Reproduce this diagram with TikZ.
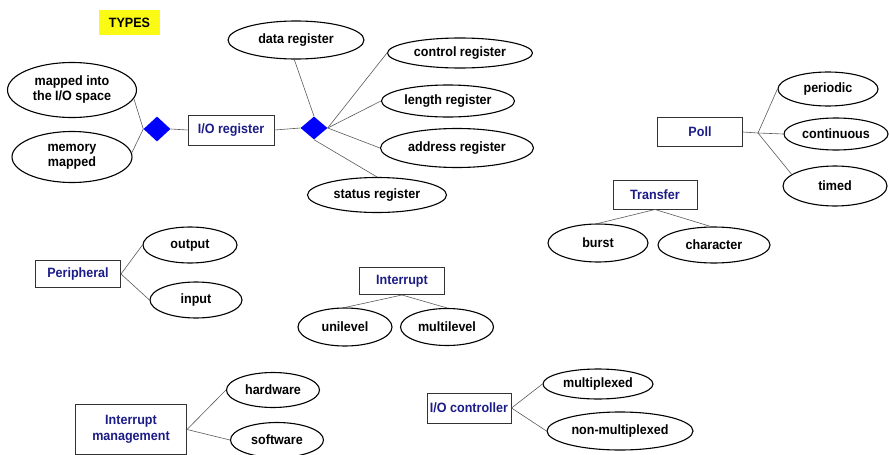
\documentclass[tikz,border=0pt]{standalone}
\usepackage{fontspec}
\setmainfont{Liberation Sans}[FakeStretch=0.93]
\usetikzlibrary{shapes.geometric}
\definecolor{navy}{RGB}{28,28,135}
\definecolor{linegray}{RGB}{90,90,90}
\definecolor{diablue}{RGB}{0,0,255}
\definecolor{typesyellow}{RGB}{250,250,20}
\tikzset{
  ell/.style={draw=black, line width=1.1pt, ellipse, inner sep=0pt},
  lbl/.style={font=\fontsize{13.5}{15}\selectfont\bfseries, text=black, align=center, inner sep=0pt},
  bx/.style={draw=black!80, line width=1pt, rectangle, inner sep=0pt, align=center,
             font=\fontsize{13.5}{16}\selectfont\bfseries, text=navy},
  dia/.style={diamond, fill=diablue, draw=none, inner sep=0pt},
  conn/.style={draw=linegray, line width=0.6pt}
}
\begin{document}
\begin{tikzpicture}[x=1pt,y=-1pt]
\useasboundingbox (0,0) rectangle (889,455);
% TYPES
\node[fill=typesyellow, minimum width=61, minimum height=25, inner sep=0pt,
      font=\fontsize{13.5}{15}\selectfont\bfseries] (types) at (129.5,22.5) {TYPES};
% I/O register cluster
\node[ell, minimum width=129, minimum height=55, label={[lbl]center:{mapped into\\the I/O space}}] (m1) at (72,90) {};
\node[ell, minimum width=120, minimum height=51, label={[lbl]center:{memory\\mapped}}] (m2) at (72,157) {};
\node[dia, minimum width=27, minimum height=25] (dL) at (157,129) {};
\node[bx, minimum width=86, minimum height=30] (ioreg) at (231,130) {I/O register};
\node[dia, minimum width=27, minimum height=23] (dR) at (314,128) {};
\node[ell, minimum width=136, minimum height=38, label={[lbl]center:{data register}}] (dreg) at (296,40) {};
\node[ell, minimum width=145, minimum height=30, label={[lbl]center:{control register}}] (creg) at (460,53) {};
\node[ell, minimum width=133, minimum height=32, label={[lbl]center:{length register}}] (lreg) at (448,101) {};
\node[ell, minimum width=153, minimum height=39, label={[lbl]center:{address register}}] (areg) at (457,148) {};
\node[ell, minimum width=139, minimum height=35, label={[lbl]center:{status register}}] (sreg) at (377,195) {};
\draw[conn] (m1.-8) -- (dL.west);
\draw[conn] (m2.4) -- (dL.west);
\draw[conn] (dL.east) -- (ioreg.west);
\draw[conn] (ioreg.east) -- (dR.west);
\draw[conn] (dreg.-95) -- (dR.north);
\draw[conn] (creg.west) -- (dR.east);
\draw[conn] (lreg.west) -- (dR.east);
\draw[conn] (areg.west) -- (dR.east);
\draw[conn] (sreg.north) -- (dR.south);
% Poll
\node[bx, minimum width=85, minimum height=29] (poll) at (700,132) {Poll};
\coordinate (pj) at (758,133);
\node[ell, minimum width=100, minimum height=34, label={[lbl]center:{periodic}}] (per) at (828,89) {};
\node[ell, minimum width=104, minimum height=32, label={[lbl]center:{continuous}}] (cont) at (836,134) {};
\node[ell, minimum width=104, minimum height=40, label={[lbl]center:{timed}}] (timed) at (835,186) {};
\draw[conn] (poll.east) -- (pj);
\draw[conn] (pj) -- (per.west);
\draw[conn] (pj) -- (cont.west);
\draw[conn] (pj) -- (timed.165);
% Transfer
\node[bx, minimum width=84, minimum height=29] (transfer) at (655,194.5) {Transfer};
\node[ell, minimum width=100, minimum height=38, label={[lbl]center:{burst}}] (burst) at (598,243) {};
\node[ell, minimum width=112, minimum height=36, label={[lbl]center:{character}}] (charc) at (714,245) {};
\draw[conn] (transfer.south) -- (burst.north);
\draw[conn] (transfer.south) -- (charc.100);
% Peripheral
\node[bx, minimum width=85, minimum height=27] (periph) at (78,274) {Peripheral};
\node[ell, minimum width=94, minimum height=36, label={[lbl]center:{output}}] (outp) at (190,245) {};
\node[ell, minimum width=92, minimum height=36, label={[lbl]center:{input}}] (inp) at (196,300) {};
\draw[conn] (periph.east) -- (outp.west);
\draw[conn] (periph.east) -- (inp.west);
% Interrupt
\node[bx, minimum width=85, minimum height=27] (intr) at (402,281) {Interrupt};
\node[ell, minimum width=94, minimum height=38, label={[lbl]center:{unilevel}}] (uni) at (345,327) {};
\node[ell, minimum width=93, minimum height=37, label={[lbl]center:{multilevel}}] (multi) at (447,327) {};
\draw[conn] (intr.south) -- (uni.north);
\draw[conn] (intr.south) -- (multi.north);
% Interrupt management
\node[bx, minimum width=111, minimum height=50] (imgmt) at (131,429.5) {Interrupt\\management};
\node[ell, minimum width=93, minimum height=35, label={[lbl]center:{hardware}}] (hw) at (273,390) {};
\node[ell, minimum width=93, minimum height=35, label={[lbl]center:{software}}] (sw) at (277,440) {};
\draw[conn] (imgmt.east) -- (hw.west);
\draw[conn] (imgmt.east) -- (sw.west);
% I/O controller
\node[bx, minimum width=84, minimum height=30] (ioc) at (469,408) {I/O controller};
\node[ell, minimum width=110, minimum height=30, label={[lbl]center:{multiplexed}}] (mux) at (598,384) {};
\node[ell, minimum width=146, minimum height=38, label={[lbl]center:{non-multiplexed}}] (nmux) at (620,431) {};
\draw[conn] (ioc.east) -- (mux.west);
\draw[conn] (ioc.east) -- (nmux.west);
\end{tikzpicture}
\end{document}
